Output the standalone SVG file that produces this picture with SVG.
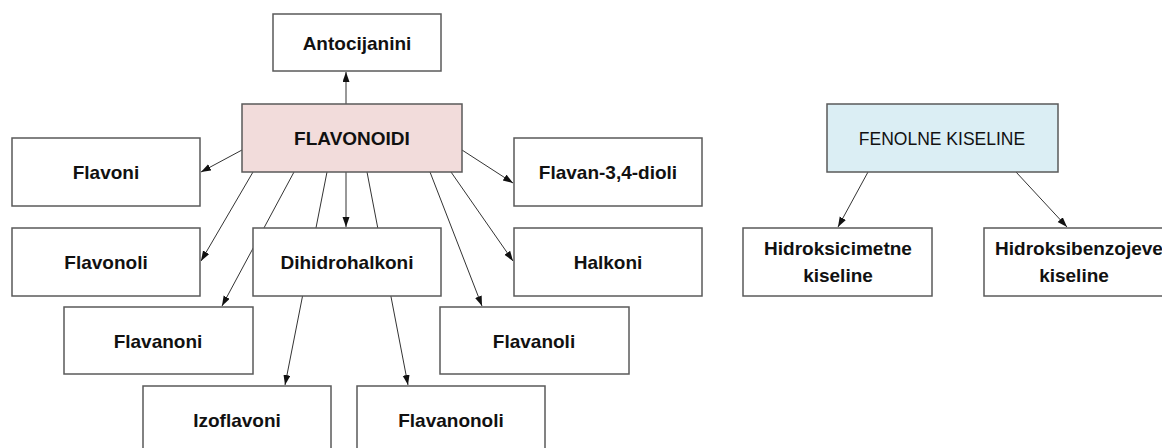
<svg xmlns="http://www.w3.org/2000/svg" width="1162" height="448" viewBox="0 0 1162 448">
<style>
.box{fill:#ffffff;stroke:#5a5a5a;stroke-width:1.5}
.t{font-family:"Liberation Sans",Arial,sans-serif;font-size:19px;font-weight:bold;fill:#111;text-anchor:middle}
.c{stroke:#333;stroke-width:1;fill:none;marker-end:url(#ah)}
</style>
<defs>
<marker id="ah" markerUnits="userSpaceOnUse" markerWidth="11" markerHeight="8" refX="10" refY="3.5" orient="auto">
<path d="M0,0 L10,3.5 L0,7 Z" fill="#111"/>
</marker>
</defs>
<rect width="1162" height="448" fill="#ffffff"/>
<g id="connectors">
<line class="c" x1="346" y1="104" x2="346" y2="72"/>
<line class="c" x1="242" y1="150" x2="201" y2="172"/>
<line class="c" x1="253" y1="172" x2="201" y2="261"/>
<line class="c" x1="294" y1="172" x2="222" y2="306"/>
<line class="c" x1="327" y1="172" x2="285" y2="385"/>
<line class="c" x1="346" y1="172" x2="346" y2="227"/>
<line class="c" x1="367" y1="172" x2="408" y2="385"/>
<line class="c" x1="430" y1="172" x2="482" y2="306"/>
<line class="c" x1="451" y1="172" x2="513" y2="261"/>
<line class="c" x1="462" y1="150" x2="513" y2="183"/>
<line class="c" x1="868" y1="172" x2="838" y2="227"/>
<line class="c" x1="1016" y1="172" x2="1067" y2="227"/>
</g>
<g id="antocijanini"><rect class="box" x="273" y="14" width="168" height="57"/><text class="t" x="357" y="50">Antocijanini</text></g>
<g id="flavonoidi"><rect class="box" x="242" y="104" width="220" height="68" style="fill:#f2dcdb"/><text class="t" x="352" y="145">FLAVONOIDI</text></g>
<g id="flavoni"><rect class="box" x="12" y="138" width="188" height="68"/><text class="t" x="106" y="179">Flavoni</text></g>
<g id="flavan34dioli"><rect class="box" x="514" y="138" width="188" height="68"/><text class="t" x="608" y="179">Flavan-3,4-dioli</text></g>
<g id="flavonoli"><rect class="box" x="12" y="228" width="188" height="68"/><text class="t" x="106" y="269">Flavonoli</text></g>
<g id="dihidrohalkoni"><rect class="box" x="253" y="228" width="188" height="68"/><text class="t" x="347" y="269">Dihidrohalkoni</text></g>
<g id="halkoni"><rect class="box" x="514" y="228" width="188" height="68"/><text class="t" x="608" y="269">Halkoni</text></g>
<g id="flavanoni"><rect class="box" x="64" y="307" width="189" height="67"/><text class="t" x="158" y="348">Flavanoni</text></g>
<g id="flavanoli"><rect class="box" x="440" y="307" width="189" height="67"/><text class="t" x="534" y="348">Flavanoli</text></g>
<g id="izoflavoni"><rect class="box" x="143" y="386" width="188" height="80"/><text class="t" x="237" y="427">Izoflavoni</text></g>
<g id="flavanonoli"><rect class="box" x="357" y="386" width="188" height="80"/><text class="t" x="451" y="427">Flavanonoli</text></g>
<g id="fenolne"><rect class="box" x="827" y="104" width="231" height="68" style="fill:#dbeef4"/><text class="t" x="942" y="145" style="font-weight:normal;font-size:17.5px">FENOLNE KISELINE</text></g>
<g id="hidroksicimetne"><rect class="box" x="743" y="228" width="189" height="68"/><text class="t" x="838" y="255">Hidroksicimetne</text><text class="t" x="838" y="282">kiseline</text></g>
<g id="hidroksibenzojeve"><rect class="box" x="984" y="228" width="190" height="68"/><text class="t" x="1079" y="255">Hidroksibenzojeve</text><text class="t" x="1074" y="282">kiseline</text></g>
</svg>
